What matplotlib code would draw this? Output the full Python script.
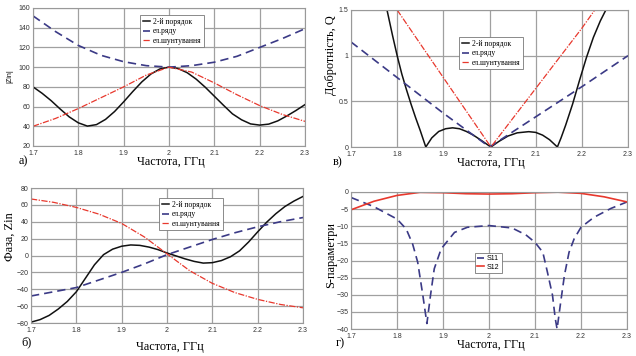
import matplotlib
matplotlib.use("Agg")
import matplotlib.pyplot as plt

# ---------------- data ----------------
freq_ticks = [1.7, 1.8, 1.9, 2.0, 2.1, 2.2, 2.3]
freq_tick_labels = ["1.7", "1.8", "1.9", "2", "2.1", "2.2", "2.3"]
legend_labels = ["2-й порядок", "ел.ряду", "ел.шунтування"]
s_labels = ["S11", "S12"]

# a) |Zin|
fa_black = [1.70, 1.72, 1.74, 1.76, 1.78, 1.80, 1.82, 1.84, 1.86, 1.88, 1.90, 1.92, 1.94, 1.96, 1.98,
            2.00, 2.02, 2.04, 2.06, 2.08, 2.10, 2.12, 2.14, 2.16, 2.18, 2.20, 2.22, 2.24, 2.26, 2.28, 2.30]
za_black = [80, 73.5, 66, 57.5, 49.5, 43.5, 40.2, 41.7, 47, 55, 64.8, 75.2, 85, 93, 98.2,
            100, 98.6, 94.4, 87.8, 79.6, 70.5, 61.4, 52.6, 46.6, 42.4, 41.2, 42.2, 45.5, 50.5, 56, 62]
fa_blue = [1.7, 1.75, 1.8, 1.85, 1.9, 1.95, 2.0, 2.05, 2.1, 2.15, 2.2, 2.25, 2.3]
za_blue = [152, 136, 122, 112, 105.5, 101.5, 100, 101.5, 105, 111, 120, 129, 139]
fa_red = [1.7, 1.75, 1.8, 1.85, 1.9, 1.95, 2.0, 2.05, 2.1, 2.15, 2.2, 2.25, 2.3]
za_red = [40, 48, 58, 69, 80, 92, 100, 95, 84, 72, 61, 52, 45]

# в) Q factor
fq_black = [1.778, 1.79, 1.8, 1.81, 1.82, 1.83, 1.84, 1.85, 1.862, 1.875, 1.89, 1.905, 1.92, 1.935, 1.95,
            1.965, 1.98, 1.99, 2.003, 2.02, 2.04, 2.06, 2.085, 2.1, 2.115, 2.13, 2.147, 2.155, 2.165,
            2.18, 2.195, 2.21, 2.225, 2.24, 2.252]
q_black = [1.5, 1.22, 1.0, 0.8, 0.63, 0.47, 0.32, 0.18, 0.0, 0.1, 0.17, 0.2, 0.21, 0.2, 0.17,
           0.13, 0.08, 0.045, 0.0, 0.06, 0.12, 0.155, 0.168, 0.16, 0.13, 0.08, 0.0, 0.1, 0.24,
           0.47, 0.73, 0.98, 1.2, 1.38, 1.5]
fq_blue = [1.7, 1.8, 1.9, 2.0, 2.1, 2.2, 2.3]
q_blue = [1.15, 0.76, 0.37, 0.0, 0.33, 0.66, 1.0]
fq_red = [1.8, 1.9, 2.003, 2.1, 2.2, 2.228]
q_red = [1.5, 0.76, 0.0, 0.64, 1.3, 1.5]

# б) phase of Zin
fp_black = [1.70, 1.72, 1.74, 1.76, 1.78, 1.80, 1.82, 1.84, 1.86, 1.88, 1.90, 1.92, 1.94, 1.96, 1.98,
            2.00, 2.02, 2.04, 2.06, 2.08, 2.10, 2.12, 2.14, 2.16, 2.18, 2.20, 2.22, 2.24, 2.26, 2.28, 2.30]
p_black = [-79, -76, -71, -63.5, -54.5, -43, -27, -11, 1, 7.5, 11, 12.5, 12, 10, 7,
           3, -0.5, -4, -7, -9, -8.5, -6, -1.5, 5.5, 16, 28, 39.5, 49.5, 58, 64.5, 70]
fp_blue = [1.7, 1.75, 1.8, 1.85, 1.9, 1.95, 2.0, 2.05, 2.1, 2.15, 2.2, 2.25, 2.3]
p_blue = [-48, -43, -38, -29, -20, -10, 1, 10, 19, 27, 34, 40, 45]
fp_red = [1.7, 1.75, 1.8, 1.85, 1.9, 1.95, 2.0, 2.05, 2.1, 2.15, 2.2, 2.25, 2.3]
p_red = [67, 63, 57, 49, 38, 22, 2, -18, -33, -44, -52, -58, -62]

# г) S-parameters
fs11 = [1.7, 1.75, 1.8, 1.82, 1.834, 1.845, 1.856, 1.865, 1.873, 1.881, 1.896, 1.925, 1.953, 2.0,
        2.05, 2.08, 2.1, 2.117, 2.127, 2.138, 2.144, 2.148, 2.156, 2.164, 2.174, 2.185, 2.2,
        2.228, 2.265, 2.3]
s11 = [-1.6, -4.3, -7.9, -10.8, -15.2, -20.5, -30, -38.4, -30, -22.4, -16.6, -11.8, -10.3, -9.8,
       -10.5, -12.5, -14.7, -17.6, -23.4, -30.1, -36.9, -40, -32, -24.3, -17.6, -13.7, -10.3,
       -7.4, -4.8, -2.9]
fs12 = [1.7, 1.75, 1.8, 1.85, 1.9, 1.95, 2.0, 2.05, 2.1, 2.15, 2.2, 2.25, 2.3]
s12 = [-5.2, -2.7, -1.0, -0.1, -0.2, -0.5, -0.6, -0.5, -0.2, -0.05, -0.4, -1.4, -2.9]

# ---------------- style ----------------
BLACK = "#111111"
BLUE = "#3b3a86"
RED = "#e8382d"
GRID = "#a0a0a0"
SANS = ["Liberation Sans", "DejaVu Sans"]
SERIF = ["Liberation Serif", "DejaVu Serif"]
LBL = 8.8

W, H = 636, 356
fig = plt.figure(figsize=(W / 100, H / 100), dpi=100)


def px_axes(l, t, r, b):
    return fig.add_axes([l / W, 1 - b / H, (r - l) / W, (b - t) / H])


def style(ax, ylim, yticks, ylabels=None):
    ax.set_xlim(1.7, 2.3)
    ax.set_ylim(*ylim)
    ax.set_xticks(freq_ticks)
    ax.set_xticklabels(freq_tick_labels)
    ax.set_yticks(yticks)
    if ylabels is not None:
        ax.set_yticklabels(ylabels)
    ax.grid(True, color=GRID, lw=0.9)
    ax.set_axisbelow(True)
    ax.tick_params(length=0, labelsize=5, labelcolor="#333333")
    ax.tick_params(axis="x", pad=3.2)
    ax.tick_params(axis="y", pad=2)
    for lab in ax.get_xticklabels() + ax.get_yticklabels():
        lab.set_family(SANS)
    for sp in ax.spines.values():
        sp.set_color("#999999")
        sp.set_linewidth(0.8)


def fig_text(x, y, s, size, family=SERIF, rot=0, **kw):
    fig.text(x / W, 1 - y / H, s, fontsize=size, family=family, rotation=rot,
             ha="center", va="center", **kw)


def legend(ax, handles, labels, loc_px, fam=SERIF, size=5.5):
    lg = ax.legend(handles, labels, loc="upper left",
                   bbox_to_anchor=(loc_px[0] / W, 1 - loc_px[1] / H),
                   bbox_transform=fig.transFigure, prop={"family": fam, "size": size},
                   handlelength=1.0, handletextpad=0.3, borderpad=0.35, labelspacing=0.2,
                   fancybox=False, framealpha=1, edgecolor="#777777", borderaxespad=0)
    lg.get_frame().set_linewidth(0.6)
    return lg


dash = (0, (5, 3))
dashdot = (0, (5, 1.2, 1, 1.2))

# a)
ax = px_axes(33, 8, 305, 146)
l1, = ax.plot(fa_black, za_black, color=BLACK, lw=1.1)
l2, = ax.plot(fa_blue, za_blue, color=BLUE, lw=1.2, ls=dash)
l3, = ax.plot(fa_red, za_red, color=RED, lw=0.9, ls=dashdot)
style(ax, (20, 160), range(20, 161, 20))
legend(ax, [l1, l2, l3], legend_labels, (140, 15))
fig_text(10, 76, "|Zin|", 5, family=SANS, rot=90)
fig_text(171, 162, "Частота, ГГц", LBL)
fig_text(23, 161, "a)", LBL)

# в)
ax = px_axes(351, 10, 628, 147)
l1, = ax.plot(fq_black, q_black, color=BLACK, lw=1.1)
l2, = ax.plot(fq_blue, q_blue, color=BLUE, lw=1.2, ls=dash)
l3, = ax.plot(fq_red, q_red, color=RED, lw=0.9, ls=dashdot)
style(ax, (0, 1.5), [0, 0.5, 1, 1.5], ["0", "0.5", "1", "1.5"])
legend(ax, [l1, l2, l3], legend_labels, (459, 37))
fig_text(331, 55, "Добротність, Q", LBL, rot=90)
fig_text(491, 163, "Частота, ГГц", LBL)
fig_text(338, 162, "в)", LBL)

# б)
ax = px_axes(31, 188, 303, 323)
l1, = ax.plot(fp_black, p_black, color=BLACK, lw=1.1)
l2, = ax.plot(fp_blue, p_blue, color=BLUE, lw=1.2, ls=dash)
l3, = ax.plot(fp_red, p_red, color=RED, lw=0.9, ls=dashdot)
style(ax, (-80, 80), range(-80, 81, 20))
legend(ax, [l1, l2, l3], legend_labels, (159, 198))
fig_text(10, 237, "Фаза, Zin", LBL, rot=90)
fig_text(170, 347, "Частота, ГГц", LBL)
fig_text(26, 342, "б)", LBL)

# г)
ax = px_axes(351, 192, 627, 329)
l1, = ax.plot(fs11, s11, color=BLUE, lw=1.2, ls=dash)
l2, = ax.plot(fs12, s12, color=RED, lw=1.2)
style(ax, (-40, 0), range(-40, 1, 5))
legend(ax, [l1, l2], s_labels, (475, 253), fam=SANS, size=5)
fig_text(331, 255, "S-параметри", LBL, rot=90)
fig_text(491, 345, "Частота, ГГц", LBL)
fig_text(340, 343, "г)", LBL)

fig.savefig("out.png", dpi=100, facecolor="white")
